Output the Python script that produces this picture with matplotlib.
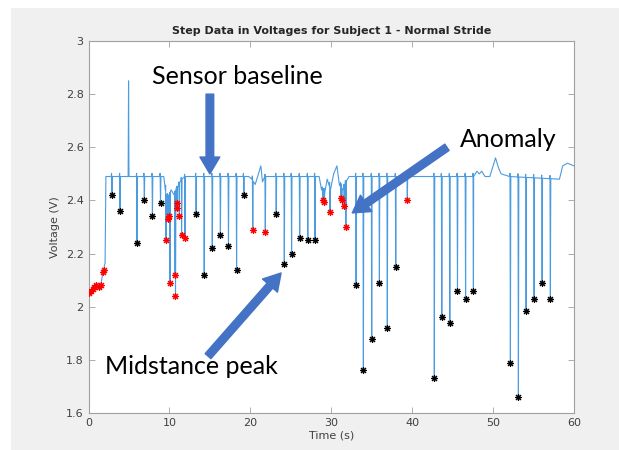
import matplotlib
matplotlib.use('Agg')
import matplotlib.pyplot as plt
import numpy as np
from matplotlib.patches import Rectangle

# baseline of the sensor trace (time s, voltage V)
base_t = [0.0, 0.15, 0.5, 0.8, 1.2, 1.5, 1.83, 2.05, 2.15, 4.90, 4.95, 5.00, 9.3, 9.5,
          9.8, 10.2, 10.6, 11.0, 11.5, 12.0, 19.8, 20.2, 20.6, 21.0, 21.3, 21.5, 21.8,
          28.5, 28.8, 29.2, 29.5, 29.9, 30.3, 30.7, 31.0, 31.4, 31.8, 32.2, 47.6, 48.0,
          48.3, 48.6, 49.0, 49.6, 49.9, 50.3, 50.7, 51.0, 52.0, 58.2, 58.6, 59.2, 60.0]
base_v = [2.06, 2.053, 2.075, 2.08, 2.075, 2.08, 2.135, 2.165, 2.49, 2.49, 2.85, 2.49, 2.49, 2.44,
          2.40, 2.44, 2.42, 2.45, 2.48, 2.49, 2.49, 2.48, 2.46, 2.50, 2.53, 2.47, 2.49,
          2.49, 2.44, 2.43, 2.48, 2.44, 2.50, 2.53, 2.46, 2.44, 2.47, 2.49, 2.49, 2.51,
          2.50, 2.51, 2.49, 2.49, 2.52, 2.56, 2.52, 2.50, 2.49, 2.48, 2.53, 2.54, 2.53]

# midstance peaks (black)
peak_t = [2.9, 3.9, 6.0, 6.9, 7.9, 8.9, 13.3, 14.3, 15.3, 16.3, 17.3, 18.3, 19.2, 23.2,
          24.2, 25.1, 26.1, 27.1, 28.0, 33.07, 33.97, 35.0, 35.95, 36.93, 37.97, 42.74,
          43.66, 44.65, 45.6, 46.6, 47.57, 52.14, 53.13, 54.08, 55.07, 56.06, 57.08]
peak_v = [2.42, 2.36, 2.24, 2.40, 2.34, 2.39, 2.35, 2.12, 2.22, 2.27, 2.23, 2.14, 2.42, 2.35,
          2.16, 2.20, 2.26, 2.25, 2.25, 2.08, 1.76, 1.88, 2.09, 1.92, 2.15, 1.73,
          1.96, 1.94, 2.06, 2.03, 2.06, 1.79, 1.66, 1.985, 2.03, 2.09, 2.03]

# anomalies (red)
anom_t = [9.58, 9.8, 10.0, 10.07, 10.7, 10.75, 10.9, 10.98, 11.22, 11.5, 11.93,
          20.3, 21.85, 28.95, 29.15, 29.85, 31.2, 31.3, 31.6, 31.8, 39.4]
anom_v = [2.25, 2.33, 2.34, 2.09, 2.12, 2.04, 2.37, 2.39, 2.34, 2.27, 2.26,
          2.29, 2.28, 2.40, 2.395, 2.355, 2.41, 2.40, 2.38, 2.30, 2.40]
start_t = [0.1, 0.3, 0.5, 0.7, 0.9, 1.3, 1.5, 1.8, 1.9]
start_v = [2.05, 2.06, 2.065, 2.075, 2.08, 2.075, 2.08, 2.13, 2.14]

# build the trace: baseline with a narrow dip down to each detected point
dip_t = np.array(peak_t + anom_t)
dip_v = np.array(peak_v + anom_v)
w = 0.05
pts_t = list(base_t)
pts_v = list(base_v)
for t, v in zip(dip_t, dip_v):
    b0 = np.interp(t - 2 * w, base_t, base_v)
    b1 = np.interp(t + w, base_t, base_v)
    pts_t += [t - 2 * w, t - w, t, t + w]
    pts_v += [b0, b0 + 0.012, v, b1]
order = np.argsort(pts_t, kind='stable')
line_t = np.array(pts_t)[order]
line_v = np.array(pts_v)[order]

fig = plt.figure(figsize=(6.19, 4.5), dpi=100)
fig.patch.set_facecolor('white')
fig.patches.append(Rectangle((11 / 619, 0), 1, 1 - 8 / 450, transform=fig.transFigure,
                             facecolor='#f0f0f0', edgecolor='none', zorder=-10))
ax = fig.add_axes([88.5 / 619, 1 - 413 / 450, (574 - 88.5) / 619, (413 - 41) / 450])

ax.plot(line_t, line_v, color='#4a9be0', lw=0.8, zorder=2)
star = (8, 2, 0)
ax.plot(peak_t, peak_v, ls='none', marker=star, ms=5, mew=0.8, color='black', zorder=3)
ax.plot(anom_t + start_t, anom_v + start_v, ls='none', marker=star, ms=5, mew=0.8,
        color='red', zorder=3)

ax.set_xlim(0, 60)
ax.set_ylim(1.6, 3)
ax.set_xticks(range(0, 61, 10))
ax.set_yticks([1.6, 1.8, 2, 2.2, 2.4, 2.6, 2.8, 3])
ax.set_yticklabels(['1.6', '1.8', '2', '2.2', '2.4', '2.6', '2.8', '3'])
ax.tick_params(direction='in', top=True, right=True, length=4, width=0.6,
               colors='#a0a0a0', labelcolor='#404040', labelsize=8)
for s in ax.spines.values():
    s.set_color('#a0a0a0')
    s.set_linewidth(0.8)
ax.set_title('Step Data in Voltages for Subject 1 - Normal Stride', fontsize=8,
             fontweight='bold', color='#262626', pad=5)
ax.set_xlabel('Time (s)', fontsize=8, color='#404040', labelpad=2)
ax.set_ylabel('Voltage (V)', fontsize=8, color='#404040', labelpad=4)

# annotations
tfont = dict(family='Lato', fontsize=18, color='black')
ax.text(7.85, 2.865, 'Sensor baseline', va='center', ha='left', **tfont)
ax.text(45.9, 2.63, 'Anomaly', va='center', ha='left', **tfont)
ax.text(2.05, 1.775, 'Midstance peak', va='center', ha='left', **tfont)

arrow = dict(arrowstyle='simple,head_width=1.3,head_length=1.1,tail_width=0.5',
             color='#4472C4', shrinkA=0, shrinkB=0, mutation_scale=11)
ax.annotate('', xy=(15.0, 2.50), xytext=(15.0, 2.80), arrowprops=arrow)
ax.annotate('', xy=(32.6, 2.353), xytext=(44.3, 2.60), arrowprops=arrow)
ax.annotate('', xy=(23.8, 2.127), xytext=(14.77, 1.814), arrowprops=arrow)

fig.savefig('out.png', dpi=100)
